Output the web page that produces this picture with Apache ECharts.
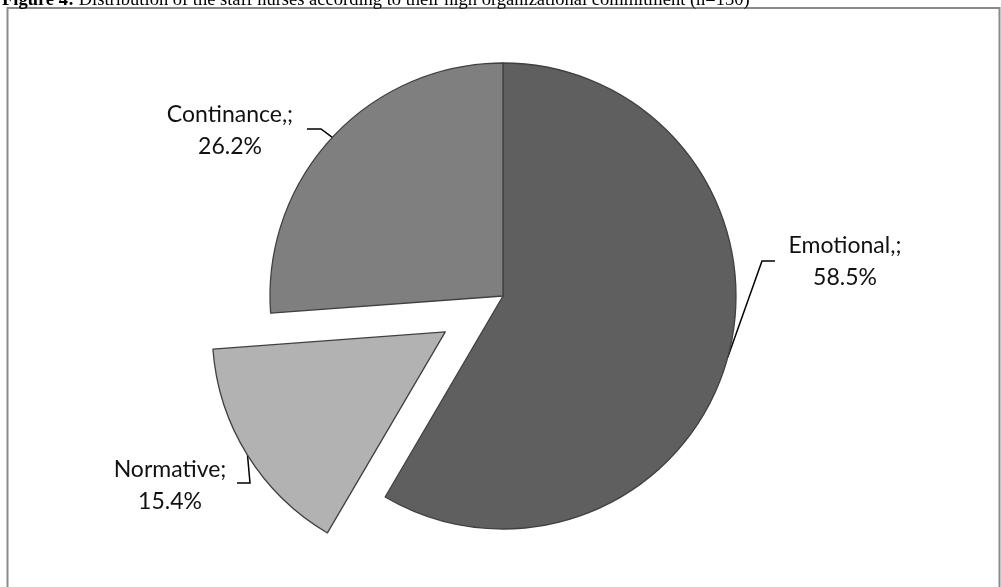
<!DOCTYPE html>
<html>
<head>
<meta charset="utf-8">
<script src="https://cdn.jsdelivr.net/npm/echarts@6/dist/echarts.min.js"></script>
<style>
  html, body { margin: 0; padding: 0; background: #fff; }
  #chart { width: 1001px; height: 587px; }
</style>
</head>
<body>
<div id="chart"></div>
<script>
// ---- data ----
const categories = ['Emotional,;', 'Normative;', 'Continance,;'];
const values = [58.5, 15.4, 26.2];
const explodedIndex = 1;
const titleText = 'Distribution of the staff nurses according to their high organizational commitment (n=130)';

// ---- layout / style ----
const sliceColors = ['#5f5f5f', '#b2b2b2', '#7f7f7f'];
const CX = 503, CY = 296, R = 233, OFFSET = 68;
const labelSpots = [
  { x: 845, y: 262, bend: [762, 261], end: [775, 261] },
  { x: 170, y: 486, bend: [250, 483], end: [237, 483] },
  { x: 230, y: 131, bend: [321, 129], end: [307, 129] }
];

const total = values.reduce((a, b) => a + b, 0);
function midDir(i) {
  let cum = 0;
  for (let k = 0; k < i; k++) cum += values[k];
  const mid = (cum + values[i] / 2) / total * Math.PI * 2;
  return [Math.sin(mid), -Math.cos(mid)];
}
const exDir = midDir(explodedIndex);
const exCenter = [CX + OFFSET * exDir[0], CY + OFFSET * exDir[1]];
function edgePoint(i) {
  const d = midDir(i);
  const c = (i === explodedIndex) ? exCenter : [CX, CY];
  return [c[0] + R * d[0], c[1] + R * d[1]];
}

const labelStyle = {
  show: true,
  position: 'outside',
  formatter: function (p) { return p.name + '\n' + p.value.toFixed(1) + '%'; },
  fontFamily: 'Lato',
  fontSize: 23,
  lineHeight: 32,
  color: '#111',
  align: 'center'
};
const hidden = {
  itemStyle: { color: 'rgba(0,0,0,0)', borderWidth: 0 },
  label: { show: false },
  labelLine: { show: false }
};

function makeSeries(showIdx, center) {
  return {
    type: 'pie',
    center: center,
    radius: R,
    startAngle: 90,
    clockwise: true,
    avoidLabelOverlap: false,
    silent: true,
    emphasis: { disabled: true },
    itemStyle: { borderColor: '#404040', borderWidth: 1.3 },
    label: labelStyle,
    labelLine: { show: true, smooth: false, lineStyle: { color: '#000', width: 1.5 } },
    labelLayout: function (params) {
      const i = params.dataIndex;
      const s = labelSpots[i];
      return {
        x: s.x, y: s.y,
        align: 'center', verticalAlign: 'middle',
        labelLinePoints: [edgePoint(i), s.bend, s.end]
      };
    },
    data: categories.map((c, i) => {
      const item = { name: c, value: values[i], itemStyle: { color: sliceColors[i] } };
      if (showIdx.indexOf(i) < 0) Object.assign(item, JSON.parse(JSON.stringify(hidden)));
      return item;
    })
  };
}

const mainIdx = categories.map((c, i) => i).filter(i => i !== explodedIndex);

const chart = echarts.init(document.getElementById('chart'), null, { renderer: 'canvas' });
chart.setOption({
  animation: false,
  backgroundColor: '#fff',
  graphic: [
    {
      type: 'rect',
      shape: { x: 7.5, y: 8, width: 992, height: 640 },
      style: { fill: 'none', stroke: '#8a8a8a', lineWidth: 2 },
      silent: true
    },
    {
      type: 'text',
      x: 2, y: 10,
      style: {
        text: '{b|Figure 4:} ' + titleText,
        fontFamily: 'Liberation Serif',
        fontSize: 18.5,
        verticalAlign: 'bottom',
        fill: '#000',
        rich: { b: { fontWeight: 'bold', fontFamily: 'Liberation Serif', fontSize: 18.5 } }
      },
      silent: true
    }
  ],
  series: [
    makeSeries(mainIdx, [CX, CY]),
    makeSeries([explodedIndex], exCenter)
  ]
});
</script>
</body>
</html>
